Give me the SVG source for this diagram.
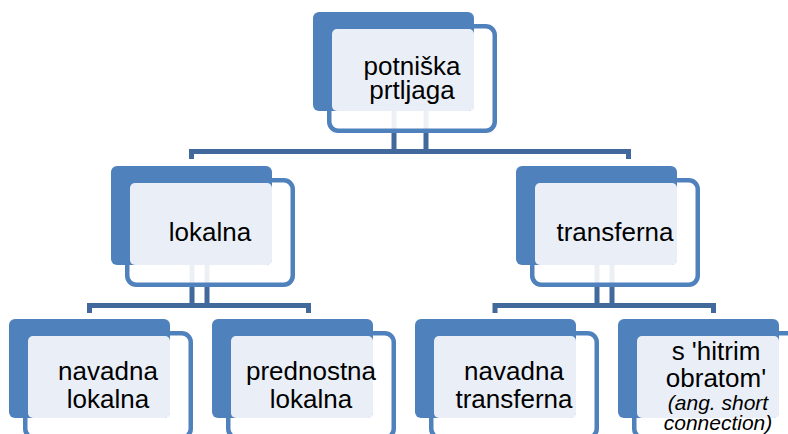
<svg xmlns="http://www.w3.org/2000/svg" width="788" height="434" viewBox="0 0 788 434">
<style>
.conn{fill:none;stroke:#41699C;stroke-width:5;stroke-linejoin:miter}
.frame{fill:#FFFFFF;fill-opacity:0.9;stroke:#4F81BD;stroke-width:4.5}
.back{fill:#4F81BD}
.face{fill:#EAEFF7}
.lbl{font-family:"Liberation Sans",Arial,sans-serif;font-size:26px;fill:#000;text-anchor:middle}
.note{font-family:"Liberation Sans",Arial,sans-serif;font-size:21px;font-style:italic;fill:#000;text-anchor:middle}
</style>
<rect width="788" height="434" fill="#FFFFFF"/>
<g id="connectors">
<path class="conn" d="M394 111V151.5M426 111V151.5"/>
<path class="conn" d="M191.5 159V151.5H628.5V159"/>
<path class="conn" d="M192 265V305.5M207 265V305.5"/>
<path class="conn" d="M89.5 313V305.5H308.5V313"/>
<path class="conn" d="M597 265V305.5M612 265V305.5"/>
<path class="conn" d="M495 313V305.5H713.5V313"/>
</g>
<g id="node-potniska-prtljaga">
<rect class="frame" x="329.25" y="26.25" width="165.5" height="104.5" rx="9"/>
<rect class="back" x="313" y="12" width="161" height="99" rx="6"/>
<rect class="face" x="332" y="29" width="142" height="82" rx="5"/>
<text class="lbl" x="412" y="75">potniška</text>
<text class="lbl" x="412" y="99">prtljaga</text>
</g>
<g id="node-lokalna">
<rect class="frame" x="127.25" y="180.25" width="165.5" height="104.5" rx="9"/>
<rect class="back" x="111" y="166" width="161" height="99" rx="6"/>
<rect class="face" x="130" y="183" width="142" height="82" rx="5"/>
<text class="lbl" x="210" y="241">lokalna</text>
</g>
<g id="node-transferna">
<rect class="frame" x="532.25" y="180.25" width="165.5" height="104.5" rx="9"/>
<rect class="back" x="516" y="166" width="161" height="99" rx="6"/>
<rect class="face" x="535" y="183" width="142" height="82" rx="5"/>
<text class="lbl" x="615" y="241">transferna</text>
</g>
<g id="node-navadna-lokalna">
<rect class="frame" x="25.25" y="333.25" width="165.5" height="104.5" rx="9"/>
<rect class="back" x="9" y="319" width="161" height="99" rx="6"/>
<rect class="face" x="28" y="336" width="142" height="82" rx="5"/>
<text class="lbl" x="108" y="380">navadna</text>
<text class="lbl" x="108" y="408">lokalna</text>
</g>
<g id="node-prednostna-lokalna">
<rect class="frame" x="228.25" y="333.25" width="165.5" height="104.5" rx="9"/>
<rect class="back" x="212" y="319" width="161" height="99" rx="6"/>
<rect class="face" x="231" y="336" width="142" height="82" rx="5"/>
<text class="lbl" x="311" y="380">prednostna</text>
<text class="lbl" x="311" y="408">lokalna</text>
</g>
<g id="node-navadna-transferna">
<rect class="frame" x="431.25" y="333.25" width="165.5" height="104.5" rx="9"/>
<rect class="back" x="415" y="319" width="161" height="99" rx="6"/>
<rect class="face" x="434" y="336" width="142" height="82" rx="5"/>
<text class="lbl" x="514" y="380">navadna</text>
<text class="lbl" x="514" y="408">transferna</text>
</g>
<g id="node-hitri-obrat">
<rect class="frame" x="634.25" y="333.25" width="165.5" height="104.5" rx="9"/>
<rect class="back" x="618" y="319" width="161" height="99" rx="6"/>
<rect class="face" x="637" y="336" width="142" height="82" rx="5"/>
<text class="lbl" x="716" y="360">s 'hitrim</text>
<text class="lbl" x="716" y="387">obratom'</text>
<text class="note" x="718" y="410">(ang. short</text>
<text class="note" x="718" y="430">connection)</text>
</g>
</svg>
